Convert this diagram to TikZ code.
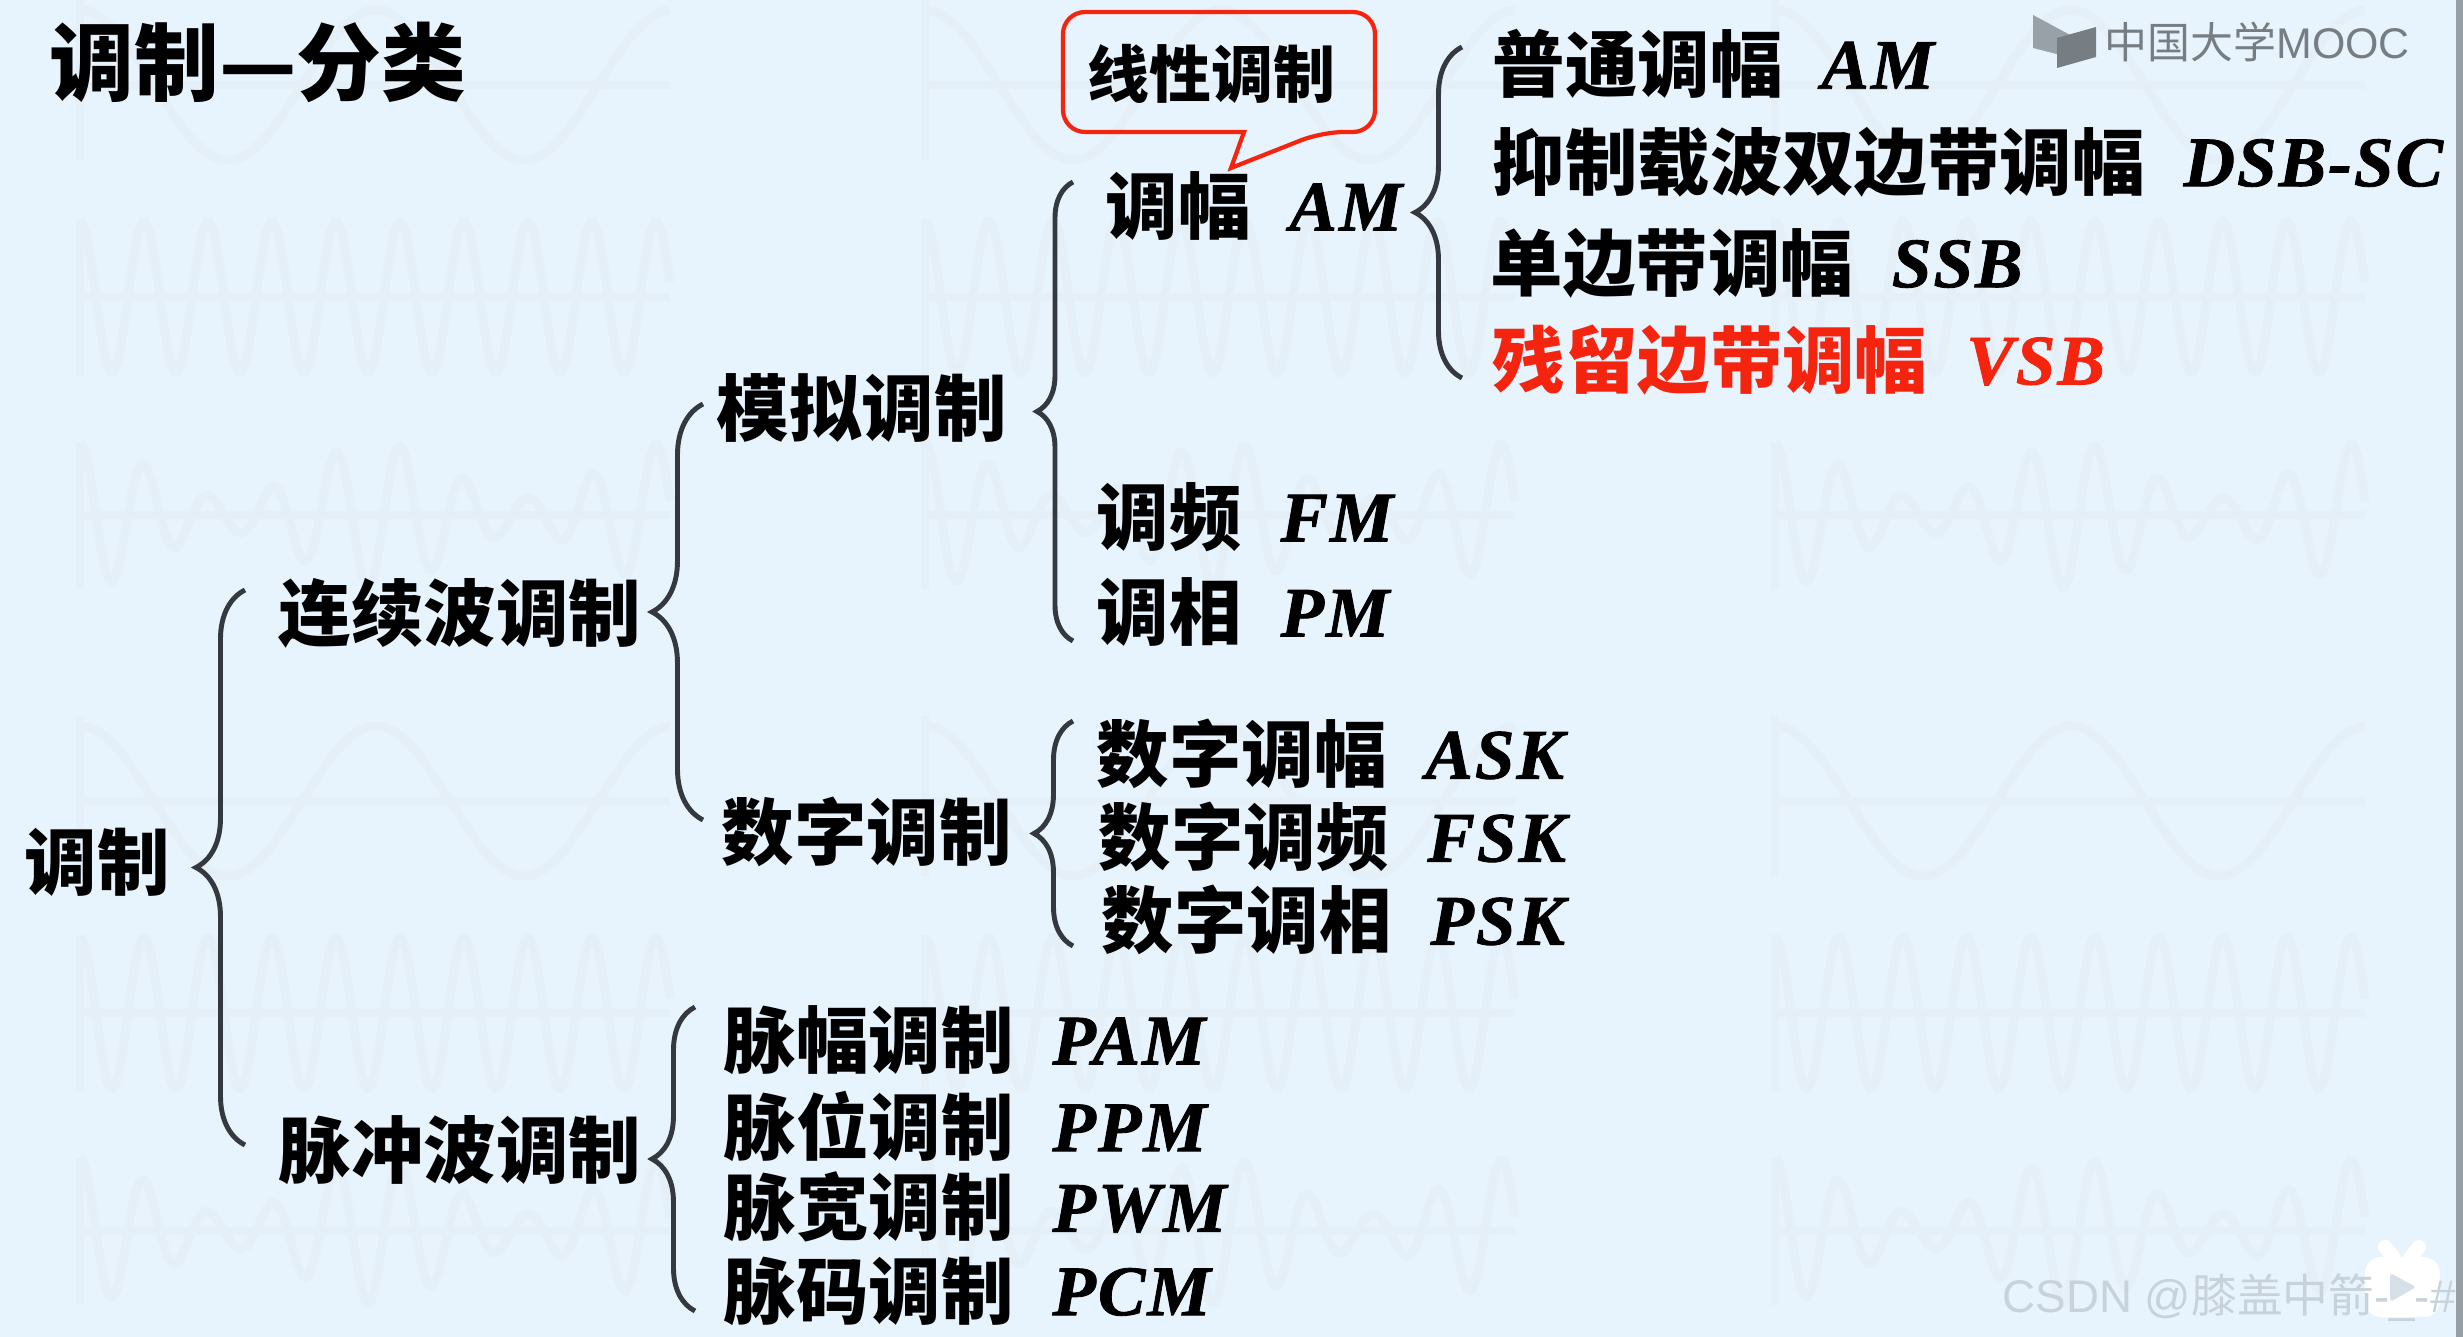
\documentclass[tikz,border=0pt]{standalone}
\usepackage{fontspec}
\setmainfont{Noto Sans CJK SC}
\newfontfamily\latinfont[LetterSpace=3, Scale=0.98, FakeBold=1.2]{Liberation Serif}
\newfontfamily\markfont{Liberation Sans}
\usetikzlibrary{decorations.pathreplacing}

\definecolor{pagebg}{HTML}{E8F4FD}
\definecolor{wavegray}{HTML}{E4EFF8}
\definecolor{bracegray}{HTML}{33393F}
\definecolor{calloutred}{HTML}{F5240F}
\definecolor{logogray}{HTML}{777E83}

\newcommand{\abbr}[1]{\hspace{0.39cm}\raisebox{0.03cm}{\latinfont\bfseries\itshape #1}}

\tikzset{
  term/.style={anchor=west, inner sep=0pt, font=\bfseries\fontsize{20.6}{24}\selectfont},
  wave/.style={wavegray, line width=2.5, line join=round},
  bracket/.style={bracegray, line width=1.4pt, decorate, decoration={brace, amplitude=#1}}
}

\begin{document}
\begin{tikzpicture}[x=0.01cm, y=-0.01cm]

\useasboundingbox (0,0) rectangle (2463,1337);
\fill[pagebg] (0,0) rectangle (2463,1337);
\fill[black!35!pagebg] (2456,0) rectangle (2463,1337);

% faint waves behind the text
\foreach \col in {80,925,1775} {
  \foreach \row in {0,716} {
    \begin{scope}[shift={(\col,\row)}]
      \draw[wave] (0,0) -- (0,160) (0,85) -- (590,85);
      \draw[wave] plot[domain=0:590, samples=120, smooth] (\x, {85-75*cos(1.216*\x)});
      \draw[wave] (0,219) -- (0,375) (0,297) -- (590,297);
      \draw[wave] plot[domain=0:590, samples=200] (\x, {297-76*cos(5.625*\x)});
      \draw[wave] (0,442) -- (0,589) (0,515) -- (590,515);
      \draw[wave] plot[domain=0:590, samples=200] (\x, {515-(45+28*cos(1.216*\x))*cos(5.625*\x)});
    \end{scope}
  }
}

\node[term, font=\bfseries\fontsize{24.1}{28}\selectfont] (title) at (49,62) {调制—分类};

\node[term] (modulation) at (24,862) {调制};
\node[term] (continuous) at (278,613) {连续波调制};
\node[term] (pulse) at (278,1150) {脉冲波调制};
\node[term] (analog) at (716,408) {模拟调制};
\node[term] (digital) at (721,832) {数字调制};

\node[term] (am) at (1105,206) {调幅\abbr{AM}};
\node[term] (fm) at (1096,517) {调频\abbr{FM}};
\node[term] (pm) at (1096,612) {调相\abbr{PM}};

\node[term] (ask) at (1096,754) {数字调幅\abbr{ASK}};
\node[term] (fsk) at (1098,837) {数字调频\abbr{FSK}};
\node[term] (psk) at (1101,920) {数字调相\abbr{PSK}};

\node[term] (pam) at (723,1040) {脉幅调制\abbr{PAM}};
\node[term] (ppm) at (723,1126) {脉位调制\abbr{PPM}};
\node[term] (pwm) at (723,1207) {脉宽调制\abbr{PWM}};
\node[term] (pcm) at (723,1291) {脉码调制\abbr{PCM}};

\node[term] (plainam) at (1492,64) {普通调幅\abbr{AM}};
\node[term] (dsb) at (1492,162) {抑制载波双边带调幅\abbr{DSB-SC}};
\node[term] (ssb) at (1490,263) {单边带调幅\abbr{SSB}};
\node[term, calloutred] (vsb) at (1492,360) {残留边带调幅\abbr{VSB}};

% braces, lower end to upper end
\coordinate (mainhi) at (245,590);
\coordinate (mainlo) at (245,1145);
\coordinate (conthi) at (703,404);
\coordinate (contlo) at (703,820);
\coordinate (pulsehi) at (695,1007);
\coordinate (pulselo) at (695,1311);
\coordinate (analoghi) at (1073,182);
\coordinate (analoglo) at (1073,641);
\coordinate (digitalhi) at (1073,721);
\coordinate (digitallo) at (1073,946);
\coordinate (amhi) at (1462,47);
\coordinate (amlo) at (1462,378);

\draw[bracket=0.49cm] (mainlo) -- (mainhi);
\draw[bracket=0.51cm] (contlo) -- (conthi);
\draw[bracket=0.43cm] (pulselo) -- (pulsehi);
\draw[bracket=0.36cm] (analoglo) -- (analoghi);
\draw[bracket=0.39cm] (digitallo) -- (digitalhi);
\draw[bracket=0.47cm] (amlo) -- (amhi);

% callout over AM
\node[term, font=\bfseries\fontsize{17.6}{20}\selectfont] (linear) at (1087,74) {线性调制};
\draw[calloutred, line width=1.2pt, fill=none]
  (1244,132) [rounded corners=0.22cm] -- (1063,132) -- (1063,12) -- (1375,12) -- (1375,132) -- (1322,132)
  [sharp corners] -- (1231,168) -- cycle;

% logo, top right
\fill[logogray!70!pagebg] (2033,15) -- (2072,36) -- (2072,58) -- (2033,48) -- cycle;
\fill[logogray] (2057,68) -- (2057,38) -- (2096,27) -- (2096,57) -- cycle;
\node[anchor=west, inner sep=0pt, logogray, font=\fontsize{12.2}{14}\selectfont] (mooc) at (2104,42) {中国大学{\markfont MOOC}};

% watermark, bottom right
\fill[white, rounded corners=0.16cm] (2365,1257) rectangle (2440,1317);
\draw[white, line width=4, line cap=round] (2385,1247) -- (2394,1258) (2419,1247) -- (2410,1258);
\fill[black!8!pagebg, rounded corners=0.03cm] (2390,1273) -- (2416,1287) -- (2390,1302) -- cycle;
\node[anchor=west, inner sep=0pt, black!14!pagebg, font=\fontsize{13}{15}\selectfont] (csdn) at (2002,1298) {{\markfont CSDN @}膝盖中箭{\markfont -\_-\#}};

\end{tikzpicture}
\end{document}
